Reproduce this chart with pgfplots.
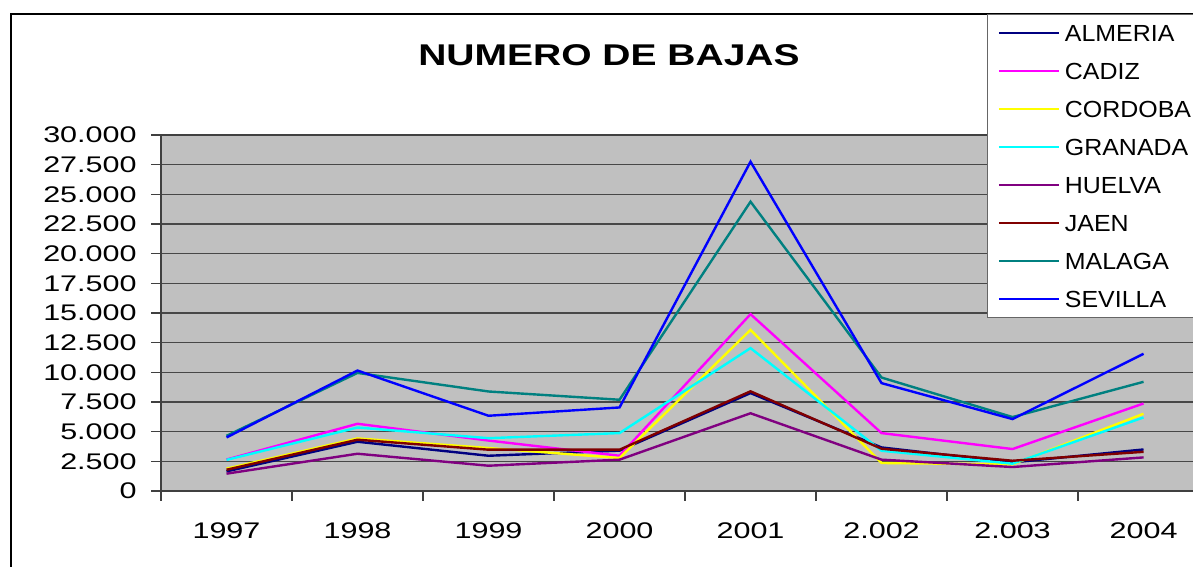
\documentclass[border=0pt]{standalone}
\usepackage{pgfplots}
\pgfplotsset{compat=1.18}
\usepackage{fontspec}
\setmainfont{Liberation Sans}
\newfontfamily\tickfont{Liberation Sans}[FakeStretch=1.35]
\newfontfamily\legfont{Liberation Sans}[FakeStretch=1.07]
\newfontfamily\titlefont{Liberation Sans}[FakeStretch=1.3]
\definecolor{bggray}{RGB}{192,192,192}
\definecolor{almeria}{RGB}{0,0,128}
\definecolor{cadiz}{RGB}{255,0,255}
\definecolor{cordoba}{RGB}{255,255,0}
\definecolor{granada}{RGB}{0,255,255}
\definecolor{huelva}{RGB}{128,0,128}
\definecolor{jaen}{RGB}{128,0,0}
\definecolor{malaga}{RGB}{0,128,128}
\definecolor{sevilla}{RGB}{0,0,255}
\begin{document}
\begin{tikzpicture}[x=0.5bp,y=0.5bp]
\path[use as bounding box] (0,0) rectangle (1193,567);
\clip (0,0) rectangle (1193,567);
\fill[white] (0,0) rectangle (1193,567);
\draw[black, line width=1.1bp] (11,-20) -- (11,553) -- (1220,553);
\begin{axis}[
  at={(80.5bp,38bp)}, anchor=south west,
  scale only axis, width=524bp, height=178bp,
  xmin=-0.5, xmax=7.5, ymin=0, ymax=30000,
  scaled y ticks=false,
  axis background/.style={fill=bggray},
  axis line style={draw=black!75, line width=0.6bp},
  ymajorgrids, grid style={draw=black!72, line width=0.7bp},
  ytick={0,2500,...,30000},
  yticklabels={0,2.500,5.000,7.500,10.000,12.500,15.000,17.500,20.000,22.500,25.000,27.500,30.000},
  xtick={0,...,7},
  xticklabels={1997,1998,1999,2000,2001,2.002,2.003,2004},
  minor xtick={-0.5,0.5,...,7.5},
  tick align=outside, tick pos=left,
  major tick length=5bp, minor tick length=5bp,
  major x tick style={draw=none},
  minor x tick style={draw=black!75, line width=0.6bp},
  y tick style={draw=black!75, line width=0.6bp},
  yticklabel style={font=\tickfont\fontsize{11.3bp}{13bp}\selectfont, inner sep=0pt, xshift=-7bp},
  xticklabel style={font=\tickfont\fontsize{11.3bp}{13bp}\selectfont, inner sep=0pt, yshift=-10.5bp},
  legend style={
    at={(axis description cs:0.7882,1.3399)}, anchor=north west,
    fill=white, draw=black!60, line width=0.5bp,
    inner xsep=5bp, inner ysep=5bp,
    row sep=10.6bp, column sep=2.5bp,
    font=\legfont\fontsize{11.65bp}{13bp}\selectfont,
    nodes={inner sep=0pt, text height=8.4bp, text depth=0pt, text width=72bp, align=left},
  },
  legend cell align=left,
  legend image code/.code={\draw[#1] (0bp,0bp) -- (30bp,0bp);},
  every axis plot/.append style={line width=1.2bp, mark=none},
]
\addplot[almeria] coordinates {(0,1650) (1,4150) (2,2970) (3,3400) (4,8250) (5,3670) (6,2410) (7,3500)};
\addlegendentry{ALMERIA}
\addplot[cadiz] coordinates {(0,2650) (1,5665) (2,4250) (3,2970) (4,14900) (5,4880) (6,3535) (7,7375)};
\addlegendentry{CADIZ}
\addplot[cordoba] coordinates {(0,1880) (1,4430) (2,3620) (3,2780) (4,13580) (5,2360) (6,2240) (7,6510)};
\addlegendentry{CORDOBA}
\addplot[granada] coordinates {(0,2620) (1,5350) (2,4450) (3,4880) (4,12040) (5,3390) (6,2300) (7,6200)};
\addlegendentry{GRANADA}
\addplot[huelva] coordinates {(0,1460) (1,3140) (2,2130) (3,2640) (4,6550) (5,2640) (6,2020) (7,2830)};
\addlegendentry{HUELVA}
\addplot[jaen] coordinates {(0,1790) (1,4320) (2,3480) (3,3480) (4,8400) (5,3560) (6,2550) (7,3300)};
\addlegendentry{JAEN}
\addplot[malaga] coordinates {(0,4650) (1,9950) (2,8385) (3,7690) (4,24380) (5,9560) (6,6230) (7,9200)};
\addlegendentry{MALAGA}
\addplot[sevilla] coordinates {(0,4510) (1,10150) (2,6340) (3,7040) (4,27750) (5,9090) (6,6060) (7,11560)};
\addlegendentry{SEVILLA}
\end{axis}
\node[font=\titlefont\bfseries\fontsize{15bp}{18bp}\selectfont] at (609,512) {NUMERO DE BAJAS};
\end{tikzpicture}
\end{document}
